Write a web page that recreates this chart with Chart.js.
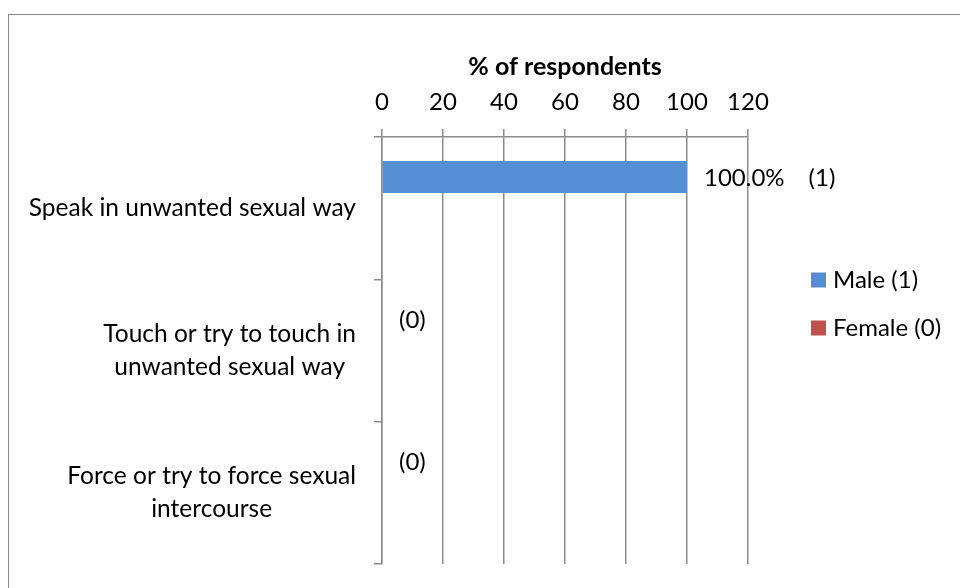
<!DOCTYPE html>
<html>
<head>
<meta charset="utf-8">
<script src="https://cdn.jsdelivr.net/npm/chart.js@4.4.1/dist/chart.umd.min.js"></script>
<style>
  html, body { margin: 0; padding: 0; background: #fff; overflow: hidden; }
  #frame { position: absolute; left: 8px; top: 13.5px; width: 1000px; height: 700px; border: 1.5px solid #8a8a8a; }
  #chart { position: absolute; left: 0; top: 0; }
</style>
</head>
<body>
<div id="frame"></div>
<canvas id="chart" width="960" height="588"></canvas>
<script>
// data
const categories = [
    ["Speak in unwanted sexual way"],
    ["Touch or try to touch in", "unwanted sexual way"],
    ["Force or try to force sexual", "intercourse"],
];
const maleValues = [100, 0, 0];
const femaleValues = [0, 0, 0];
const seriesNames = ["Male (1)", "Female (0)"];
const pctLabels = ["100.0%", "", ""];
const countLabels = ["(1)", "(0)", "(0)"];
const axisMin = 0;
const axisMax = 120;
const axisStep = 20;

const FONT = "Lato, 'Open Sans', sans-serif";
const GRID = "#8c8c8c";
const colors = ["#558ed5", "#c0504d"];

// category labels: block right-aligned to the axis, lines centred inside it
const categoryLabels = {
    id: "categoryLabels",
    afterDraw(chart) {
        const ctx = chart.ctx;
        const scale = chart.scales.y;
        const right = scale.right - 8 - 18;
        const lineH = 33;
        ctx.save();
        ctx.font = "24.5px " + FONT;
        ctx.fillStyle = "#000";
        ctx.textAlign = "center";
        ctx.textBaseline = "middle";
        chart.data.labels.forEach((lines, i) => {
            const w = Math.max(...lines.map((t) => ctx.measureText(t).width));
            const cx = right - w / 2;
            const cy = scale.getPixelForTick(i);
            lines.forEach((t, j) => {
                ctx.fillText(t, cx, cy + (j - (lines.length - 1) / 2) * lineH);
            });
        });
        ctx.restore();
    },
};

// labels at the end of the male bars: "100.0%   (1)" / "(0)"
const barLabels = {
    id: "barLabels",
    afterDatasetsDraw(chart) {
        const ctx = chart.ctx;
        const meta = chart.getDatasetMeta(0);
        ctx.save();
        ctx.font = "24px " + FONT;
        ctx.fillStyle = "#000";
        ctx.textAlign = "left";
        ctx.textBaseline = "middle";
        meta.data.forEach((bar, i) => {
            let x = bar.x + 17;
            if (pctLabels[i]) {
                ctx.fillText(pctLabels[i], x, bar.y + 1);
                x += ctx.measureText(pctLabels[i]).width + 24;
            }
            ctx.fillText(countLabels[i], x, bar.y + 1);
        });
        ctx.restore();
    },
};

// legend on the right, drawn by hand
const sideLegend = {
    id: "sideLegend",
    afterDraw(chart) {
        const ctx = chart.ctx;
        ctx.save();
        ctx.font = "24px " + FONT;
        ctx.textBaseline = "middle";
        ctx.textAlign = "left";
        chart.data.datasets.forEach((ds, i) => {
            const y = 280 + i * 48;
            ctx.fillStyle = ds.backgroundColor;
            ctx.fillRect(811, y - 7.5, 15, 15);
            ctx.fillStyle = "#000";
            ctx.fillText(ds.label, 833, y);
        });
        ctx.restore();
    },
};

const ctx = document.getElementById("chart").getContext("2d");
const chart = new Chart(ctx, {
    type: "bar",
    data: {
        labels: categories,
        datasets: [
            {
                label: seriesNames[0],
                data: maleValues,
                backgroundColor: colors[0],
            },
            {
                label: seriesNames[1],
                data: femaleValues,
                backgroundColor: colors[1],
            },
        ],
    },
    options: {
        indexAxis: "y",
        responsive: false,
        animation: false,
        categoryPercentage: 0.877,
        barPercentage: 1,
        maxBarThickness: 32,
        borderWidth: 0,
        layout: { padding: { left: 0, right: 212, top: 0, bottom: 24 } },
        plugins: {
            legend: { display: false },
            tooltip: { enabled: false },
        },
        scales: {
            x: {
                position: "top",
                min: axisMin,
                max: axisMax,
                ticks: {
                    stepSize: axisStep,
                    color: "#000",
                    padding: 12,
                    font: { family: FONT, size: 24, lineHeight: 1.2 },
                },
                grid: { color: GRID, lineWidth: 1.5, tickLength: 8 },
                border: { display: true, color: GRID, width: 1.5 },
                title: {
                    display: true,
                    text: "% of respondents",
                    color: "#000",
                    padding: { top: 52, bottom: 0 },
                    font: { family: FONT, size: 25, weight: "bold", lineHeight: 1.2 },
                },
                afterFit: (scale) => {
                    scale.height = 137;
                    scale.paddingLeft = 0;
                    scale.paddingRight = 0;
                },
            },
            y: {
                offset: true,
                ticks: { display: false },
                grid: { color: GRID, lineWidth: 1.5, tickLength: 8, drawOnChartArea: false, offset: true },
                border: { display: true, color: GRID, width: 1.5 },
                afterFit: (scale) => {
                    scale.width = 382;
                    scale.paddingTop = 0;
                    scale.paddingBottom = 0;
                },
            },
        },
    },
    plugins: [categoryLabels, barLabels, sideLegend],
});
</script>
</body>
</html>
